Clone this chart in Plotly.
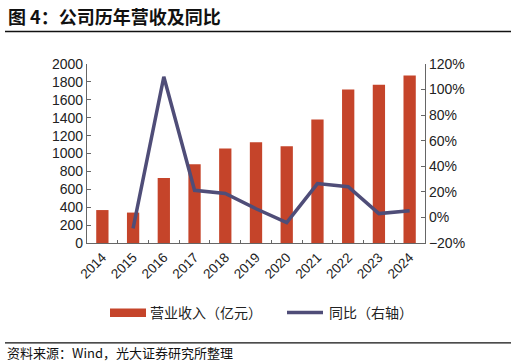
import plotly.graph_objects as go

years = ["2014", "2015", "2016", "2017", "2018", "2019", "2020", "2021", "2022", "2023", "2024"]
revenue = [368, 340, 727, 880, 1056, 1126, 1082, 1380, 1716, 1767, 1872]
yoy = [None, -0.085, 1.10, 0.212, 0.187, 0.068, -0.040, 0.265, 0.240, 0.030, 0.052]

left_ticks = [0, 200, 400, 600, 800, 1000, 1200, 1400, 1600, 1800, 2000]
bar_name = "营业收入（亿元）"
line_name = "同比（右轴）"
title_text = "图 4：公司历年营收及同比"
source_text = "资料来源：Wind，光大证券研究所整理"

W, H = 516, 364
L, R, T, B = 87, 425, 64, 242.7
PW, PH = R - L, B - T


def px(x):
    return (x - L) / PW


def py(y):
    return (B - y) / PH


BAR = "#C5442A"
LINE = "#4F4D78"
TXT = "#222222"
NUM_FONT = "Arial, Liberation Sans, sans-serif"
CJK = "Noto Sans CJK SC, sans-serif"

fig = go.Figure()
fig.add_trace(go.Bar(x=years, y=revenue, name=bar_name, marker_color=BAR,
                     marker_line_width=0, width=0.4, yaxis="y"))
fig.add_trace(go.Scatter(x=years, y=yoy, name=line_name, mode="lines",
                         line=dict(color=LINE, width=3.5), yaxis="y2",
                         connectgaps=False))

fig.update_layout(
    width=W, height=H,
    margin=dict(l=L, r=W - R, t=T, b=H - B, pad=0),
    paper_bgcolor="white", plot_bgcolor="white",
    showlegend=False,
    font=dict(family=NUM_FONT, size=14, color=TXT),
    xaxis=dict(type="category", tickangle=-45, showgrid=False,
               showline=True, linecolor="#666666", linewidth=1.2,
               ticks="inside", ticklen=3, tickcolor="#666666",
               tickson="boundaries", tickfont=dict(size=13.5, family=NUM_FONT),
               range=[-0.5, 10.5]),
    yaxis=dict(range=[0, 2000], tickvals=left_ticks, showgrid=False,
               showline=True, linecolor="#666666", linewidth=1.2,
               ticks="inside", ticklen=4, tickcolor="#666666",
               zeroline=False, tickfont=dict(size=14, family=NUM_FONT)),
    yaxis2=dict(range=[-0.2, 1.2], dtick=0.2, tick0=-0.2, tickformat=".0%",
                overlaying="y", side="right", showgrid=False,
                showline=True, linecolor="#666666", linewidth=1.2,
                ticks="inside", ticklen=4, tickcolor="#666666",
                zeroline=False, tickfont=dict(size=14, family=NUM_FONT)),
)

shapes = [
    dict(type="line", xref="paper", yref="paper", x0=px(5), x1=px(511),
         y0=py(31.5), y1=py(31.5), line=dict(color="#111111", width=1.5)),
    dict(type="line", xref="paper", yref="paper", x0=px(5), x1=px(511),
         y0=py(342.5), y1=py(342.5), line=dict(color="#111111", width=1.2)),
    dict(type="rect", xref="paper", yref="paper", x0=px(110), x1=px(146),
         y0=py(316.5), y1=py(308), fillcolor=BAR, line=dict(width=0)),
    dict(type="line", xref="paper", yref="paper", x0=px(287), x1=px(323),
         y0=py(312), y1=py(312), line=dict(color=LINE, width=3.5)),
]
annotations = [
    dict(text="<b>" + title_text + "</b>", xref="paper", yref="paper",
         x=px(6), y=py(16), xanchor="left", yanchor="middle", showarrow=False,
         font=dict(family=CJK, size=18, color="#111111")),
    dict(text=source_text, xref="paper", yref="paper",
         x=px(5), y=py(352), xanchor="left", yanchor="middle", showarrow=False,
         font=dict(family=CJK, size=13, color="#111111")),
    dict(text=bar_name, xref="paper", yref="paper",
         x=px(148), y=py(312), xanchor="left", yanchor="middle", showarrow=False,
         font=dict(family=CJK, size=14, color=TXT)),
    dict(text=line_name, xref="paper", yref="paper",
         x=px(327), y=py(312), xanchor="left", yanchor="middle", showarrow=False,
         font=dict(family=CJK, size=14, color=TXT)),
]
fig.update_layout(shapes=shapes, annotations=annotations)

fig.write_html("out.html", config={"displayModeBar": False},
               post_script="document.body.style.margin='0';document.body.style.overflow='hidden';")
